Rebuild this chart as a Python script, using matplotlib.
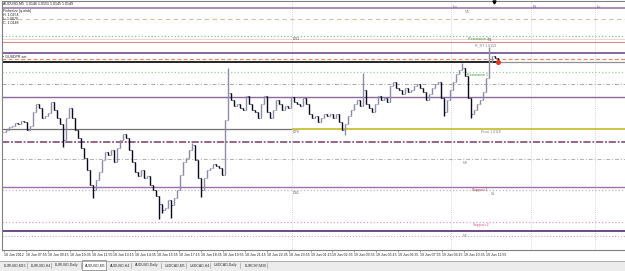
import matplotlib
matplotlib.use("Agg")
import matplotlib.pyplot as plt
from matplotlib.patches import Rectangle
from matplotlib.transforms import blended_transform_factory
import numpy as np

plt.rcParams['font.family'] = ['Liberation Sans', 'DejaVu Sans']

W, H = 625, 271

# AUDUSD bars, closes in pips above 1.0000
closes = [114, 115, 116.5, 117, 118.5, 118, 119.5, 119, 115, 117,
          124, 128, 126, 121, 122, 123.5, 129, 125, 121, 118,
          110, 121, 126, 121, 115, 111, 106, 101, 95, 87.5,
          85, 90, 94, 100, 104, 102.5, 105, 99, 106, 110,
          113, 111, 105, 99, 94, 92, 95, 91, 92, 87.5,
          85, 82, 78, 75, 76, 80, 77.5, 81, 85, 92.5,
          99, 101, 105, 107.5, 100, 91, 85, 91, 95, 96,
          98, 97, 96, 92.5, 120, 133.5, 130, 127, 128, 126,
          125, 132, 128, 125, 124, 121, 128, 132, 124, 121,
          125, 130, 128, 125, 127, 126, 131.5, 129, 128, 127,
          131, 128, 123, 121, 122, 119, 121, 123, 122, 123,
          121, 123, 119, 115, 118, 122, 125, 128, 130, 127,
          135, 128, 126, 124, 128, 132, 130, 131, 129, 137,
          139, 136, 135, 133, 136, 134, 135, 137, 138, 136,
          134, 130, 133, 136, 138, 139, 131, 124, 130, 135,
          139, 143, 145, 146, 142, 131, 123, 125, 128, 130,
          134, 141, 149, 152, 151, 149]
spike_highs = {63: 108.5, 75: 146, 120: 143.5, 153: 148.5, 162: 156.5}
spike_lows = {20: 106.5, 30: 81, 52: 70.5, 53: 73.5, 56: 71, 66: 81.5,
              114: 112.5, 147: 122, 156: 121}

# horizontal levels (pips above 1.0000)
level_names = ["top", "r3", "r2_band", "res2", "dr1", "r_purple", "r_orange", "bid",
               "res1", "m4", "p_purple", "pivot", "s_purple", "m3", "sup1", "ds1",
               "sup2", "s_low", "m1"]
level_pips = [176, 170.5, 160.5, 162, 159, 153.5, 150.75, 149,
              144, 138, 131.5, 115.5, 109, 100.5, 86.75, 85,
              69, 64.5, 62]

# bar positions of day start and session markers
day_start = 96.33
session_names = ["Lo", "N", "Lc"]
session_bars = [149.33, 176, 197.33]

tick_labels = ["18 Jun 2012", "18 Jun 07:55", "18 Jun 09:15", "18 Jun 10:35", "18 Jun 11:55",
               "18 Jun 13:15", "18 Jun 14:35", "18 Jun 15:55", "18 Jun 17:15", "18 Jun 18:35",
               "18 Jun 19:55", "18 Jun 21:15", "18 Jun 22:35", "18 Jun 23:55", "19 Jun 01:15",
               "19 Jun 02:35", "19 Jun 03:55", "19 Jun 05:15", "19 Jun 06:35", "19 Jun 07:55",
               "19 Jun 09:15", "19 Jun 10:35", "19 Jun 11:55"]
bars_per_label = 7.3

tabs = ["EURUSD,M15", "EURUSD,H4", "EURUSD,Daily", "AUDUSD,M5", "AUDUSD,H4",
        "AUDUSD,Daily", "USDCAD,M5", "USDCAD,H4", "USDCAD,Daily", "EURCHF,M30"]
active_tab = "AUDUSD,M5"

styles = {
    "top": ("#9a7ab0", "-", 1.2),
    "r3": ("#d8bf9c", (0, (4, 3)), 0.8),
    "r2_band": ("#f0d4d4", "-", 0.8),
    "res2": ("#8cc88c", ":", 0.9),
    "dr1": ("#d88c8c", "-", 0.8),
    "r_purple": ("#7a5a9a", "-", 1.3),
    "r_orange": ("#e08a6a", (0, (3, 2)), 0.9),
    "bid": ("#000000", "-", 1.2),
    "res1": ("#a8c8a8", ":", 0.9),
    "m4": ("#a8a8a8", (0, (4, 2, 1, 2)), 0.7),
    "p_purple": ("#8a6aa0", "-", 1.0),
    "pivot": ("#c8c038", "-", 1.3),
    "s_purple": ("#8a5a80", (0, (4, 1, 1, 1)), 1.3),
    "m3": ("#b0b0b0", (0, (4, 2, 1, 2)), 0.7),
    "sup1": ("#a070a8", "-", 1.0),
    "ds1": ("#b8b8c8", ":", 0.9),
    "sup2": ("#e0a0c4", ":", 0.9),
    "s_low": ("#6a4a8a", "-", 1.4),
    "m1": ("#b8b8b8", ":", 0.8),
}

def price(p):
    return 1.0 + np.asarray(p, dtype=float) / 10000.0

lv = dict(zip(level_names, level_pips))

fig = plt.figure(figsize=(W / 100, H / 100), dpi=100)
fig.patch.set_facecolor("white")

# chart panel from pixel row 1 to 250
ax = fig.add_axes([2 / W, (H - 250) / H, 623 / W, 249 / H])
ax.set_xlim(-0.33, 207.33)
ax.set_ylim(price(180 - 250 / 2), price(179.5))
ax.set_facecolor("white")
for s in ["left", "top", "bottom"]:
    ax.spines[s].set_color("#808080")
    ax.spines[s].set_linewidth(0.8)
ax.spines["right"].set_visible(False)
ax.set_yticks([])

x0, x1 = ax.get_xlim()
n = len(closes)
last = n - 1

# session / day separators
for b in [day_start] + session_bars:
    ax.axvline(b, color="#c8c8c8", ls=(0, (1, 1.5)), lw=0.6, zorder=1)

# levels
for name in level_names:
    col, ls, lw = styles[name]
    y = price(lv[name])
    if name == "pivot":
        ax.hlines(y, x0, day_start, color="#707070", lw=0.9, zorder=2)
        ax.hlines(y, day_start, x1, color=col, ls=ls, lw=lw, zorder=2)
    elif name == "bid":
        ax.hlines(y, x0, last, color=col, ls=ls, lw=lw, zorder=2)
        ax.hlines(y, last, x1, color="#909090", ls=ls, lw=0.9, zorder=2)
    else:
        ax.hlines(y, x0, x1, color=col, ls=ls, lw=lw, zorder=2)

# bars
idx = np.arange(n)
c = np.array(closes, dtype=float)
o = np.r_[c[0], c[:-1]]
hi = np.maximum(o, c)
lo = np.minimum(o, c)
for k, v in spike_highs.items():
    hi[k] = v
for k, v in spike_lows.items():
    lo[k] = v
up = c >= o
for mask, col in [(up, "#8c8ca8"), (~up, "#0a0a1e")]:
    ax.vlines(idx[mask], price(lo[mask]), price(hi[mask]), color=col, lw=1.0, zorder=4)
    ax.hlines(price(o[mask]), idx[mask] - 0.45, idx[mask], color=col, lw=0.8, zorder=4)
    ax.hlines(price(c[mask]), idx[mask], idx[mask] + 0.45, color=col, lw=0.8, zorder=4)

ax.plot(last, price(lv["bid"]), "o", color="#e03a20", ms=2.6, zorder=5)
trans = blended_transform_factory(ax.transData, ax.transAxes)
ax.plot(last - 1.3, 0.995, marker="v", color="black", ms=2.2, transform=trans,
        clip_on=False, zorder=6)

fs = 2.6
# session labels
for name, b in zip(session_names, session_bars):
    ax.text(b + 0.6, 0.985, name, transform=trans, fontsize=3.0, color="#7050a0",
            va="top", ha="left")

# level labels
ax.text(day_start + 0.4, price(lv["dr1"]) + 0.00003, "DR1", fontsize=fs, color="#505050",
        va="bottom")
ax.text(day_start + 0.4, price(lv["pivot"]) - 0.00005, "DPV", fontsize=fs, color="#606060",
        va="top")
ax.text(day_start + 0.4, price(lv["ds1"]) - 0.00005, "DS1", fontsize=fs, color="#606060",
        va="top")
rx = last - 3.5
ax.text(rx + 0.5, price(lv["res2"]) - 0.00005, "Resistance 2", fontsize=fs, color="#3c9a3c",
        ha="right", va="top")
ax.text(rx, price(lv["res1"]) - 0.00005, "Resistance 1", fontsize=fs, color="#3c9a3c",
        ha="right", va="top")
ax.text(rx, price(lv["sup1"]) - 0.00005, "Support 1", fontsize=fs, color="#a03040",
        ha="right", va="top")
ax.text(rx + 0.3, price(lv["sup2"]) - 0.00005, "Support 2", fontsize=fs, color="#d0508a",
        ha="right", va="top")
ax.text(last - 1.8, price(lv["dr1"]) + 0.00002, "R1", fontsize=fs, color="#707070",
        ha="right", va="bottom")
ax.text(last - 0.7, price(lv["dr1"]) - 0.00008, "R_RT 1.0159", fontsize=fs, color="#808080",
        ha="right", va="top")
ax.text(last + 1.0, price(lv["pivot"]) - 0.00006, "Pivot 1.0116", fontsize=fs, color="#808080",
        ha="right", va="top")
ax.text(last - 0.8, price(lv["ds1"]) - 0.00008, "S1", fontsize=fs, color="#808080",
        ha="right", va="top")
ax.text(session_bars[0] + 4.5, price(lv["top"]) - 0.00012, "M5", fontsize=fs,
        color="#909090", va="top")
ax.text(session_bars[0] + 4.0, price(lv["m3"]) - 0.00008, "M3", fontsize=fs,
        color="#909090", va="top")
ax.text(session_bars[0] + 4.0, price(lv["m1"]), "M1", fontsize=fs,
        color="#909090", va="center")

# x axis labels
tick_pos = np.arange(len(tick_labels)) * bars_per_label + 0.33
ax.set_xticks(tick_pos)
ax.set_xticklabels(tick_labels, fontsize=2.5, ha="left", color="#202020")
ax.tick_params(axis="x", length=1.5, width=0.5, color="#808080", pad=0.8)

# header text block
def ftext(px, py, s, **kw):
    fig.text(px / W, 1 - py / H, s, va="center", ha="left", **kw)

ftext(3, 4, "AUDUSD,M5  1.0146 1.0151 1.0145 1.0149", fontsize=fs, color="#202020")
ftext(3, 11, "Fisher/zz (q.olub)", fontsize=fs, color="#202020")
ftext(3, 15, "H: 1.0154", fontsize=fs, color="#202020")
ftext(3, 19, "L: 1.0070", fontsize=fs, color="#202020")
ftext(3, 23, "C: 1.0148", fontsize=fs, color="#202020")
ftext(3, 57, "\u2022 GUSDPR.set", fontsize=fs, color="#202020")

# tab bar
tab_ax = fig.add_axes([0, 0, 1, 11 / H])
tab_ax.set_xlim(0, W)
tab_ax.set_ylim(271, 260)
tab_ax.axis("off")
tab_ax.add_patch(Rectangle((0, 260.5), W, 11, facecolor="#ececec", edgecolor="none"))
tab_ax.plot([0, W], [260.6, 260.6], color="#a0a0a0", lw=0.6)
x = 4.0
for t in tabs:
    w = len(t) * 1.95
    if t == active_tab:
        tab_ax.add_patch(Rectangle((x - 3, 260.3), w + 6, 10, facecolor="white",
                                   edgecolor="#909090", lw=0.6))
    tab_ax.text(x, 265.3, t, fontsize=2.5, color="#303030", va="center", ha="left")
    sep = x + w + 3
    tab_ax.plot([sep, sep], [262.5, 268], color="#a0a0a0", lw=0.5)
    x = sep + 4

fig.savefig("out.png", dpi=100)
